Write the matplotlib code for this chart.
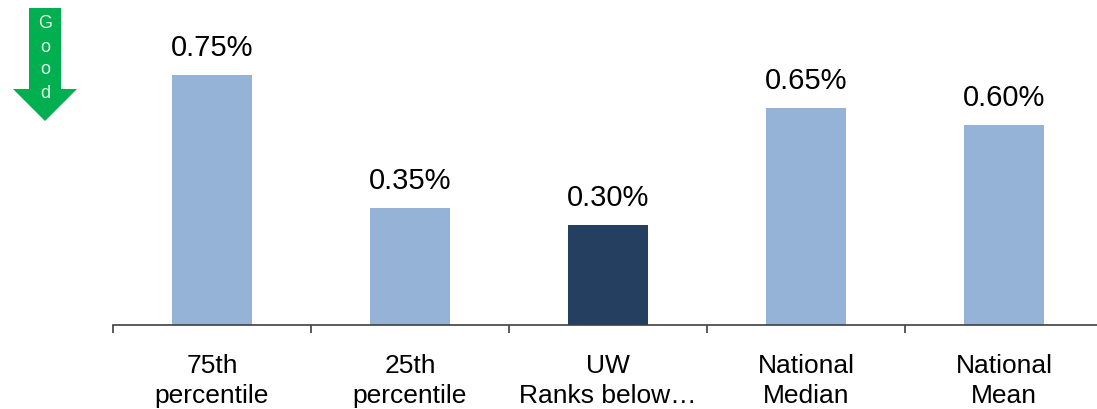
import matplotlib
matplotlib.use("Agg")
import matplotlib.pyplot as plt
from matplotlib.patches import Polygon
import numpy as np

plt.rcParams['font.family'] = ['Liberation Sans', 'DejaVu Sans']

# datos
categorias = ['75th\npercentile', '25th\npercentile', 'UW\nRanks below…',
              'National\nMedian', 'National\nMean']
valores = [0.75, 0.35, 0.30, 0.65, 0.60]
colores = ['#95B3D7', '#95B3D7', '#243F60', '#95B3D7', '#95B3D7']

W, H = 1097, 409
fig = plt.figure(figsize=(W/100, H/100), dpi=100)
ax = fig.add_axes([113/W, 84/H, (W-113)/W, 325/H])

x = np.arange(len(valores))
ax.bar(x, valores, width=0.4, color=colores)
for xi, v in zip(x, valores):
    ax.text(xi, v + 0.04, '{:.2f}%'.format(v), ha='center', va='bottom',
            fontsize=21, color='black')

ax.set_xlim(-0.5, 4.47)
ax.set_ylim(0, 0.975)
for s in ['top', 'right', 'left']:
    ax.spines[s].set_visible(False)
ax.spines['bottom'].set_color('#404040')
ax.spines['bottom'].set_linewidth(1.2)
ax.set_yticks([])

# ticks en los limites de cada categoria, etiquetas al centro
ax.set_xticks(np.arange(-0.5, 4.5, 1.0))
ax.set_xticklabels([])
ax.tick_params(axis='x', which='major', direction='out', length=6,
               width=1.2, color='#404040')
ax.set_xticks(x, minor=True)
ax.set_xticklabels(categorias, minor=True, fontsize=19, linespacing=1.3)
ax.tick_params(axis='x', which='minor', length=0, pad=21)

# flecha "Good"
over = fig.add_axes([0, 0, 1, 1], facecolor='none')
over.set_xlim(0, W)
over.set_ylim(H, 0)
over.axis('off')
flecha = [(29, 8), (61, 8), (61, 89), (77, 89), (45, 121),
          (13, 89), (29, 89)]
over.add_patch(Polygon(flecha, closed=True, color='#00B050', lw=0))
for i, letra in enumerate('Good'):
    over.text(45, 24 + i*23, letra, ha='center', va='center',
              fontsize=13, color='#DDF3E4')

fig.savefig('out.png', dpi=100)
